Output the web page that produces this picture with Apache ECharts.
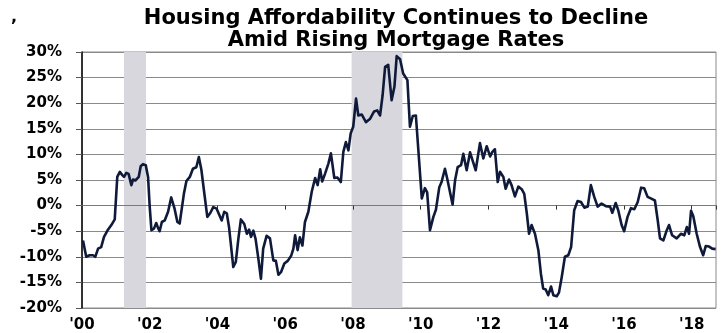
<!DOCTYPE html>
<html>
<head>
<meta charset="utf-8">
<script src="https://cdn.jsdelivr.net/npm/echarts@6/dist/echarts.min.js"></script>
<style>
html,body{margin:0;padding:0;background:#ffffff;}
#chart{width:722px;height:333px;}
</style>
</head>
<body>
<div id="chart"></div>
<script>
// ---- data ----
const titleText = 'Housing Affordability Continues to Decline\nAmid Rising Mortgage Rates';
const yMin = -20, yMax = 30, yStep = 5;
const xStartYear = 2000, xEndYear = 2018.72, xStep = 2;

// months elapsed since Jan 2000 for each reading
const monthOffset = [
  0.35,1.5,2.7,3.9,4.7,5.7,6.8,7.8,9.2,10.4,11.6,12.5,13.4,14.2,14.9,15.7,16.5,17.5,18.1,18.9,
  20.1,20.8,21.6,22.6,23.4,24.0,24.6,25.5,26.3,26.9,27.5,28.3,29.3,30.5,31.6,32.8,33.8,34.6,36.1,37.0,
  38.2,39.3,40.5,41.4,42.3,43.2,44.4,
  45.4,46.5,47.7,49.5,50.4,51.3,52.1,53.6,54.5,55.4,56.3,57.5,58.4,59.2,59.9,60.7,61.5,62.5,63.4,64.2,
  65.4,66.6,67.8,68.7,69.6,70.5,71.7,72.9,74.1,74.9,75.5,76.4,77.2,78.1,79.0,80.2,81.4,82.6,83.5,84.4,
  85.1,86.1,87.3,88.2,89.4,
  90.5,91.7,92.6,93.5,94.4,95.2,96.1,97.1,97.9,99.1,100.6,102.0,103.5,104.6,105.6,106.5,107.4,108.5,109.7,110.7,
  111.5,112.7,113.8,115.3,116.2,117.2,118.3,120.4,121.5,122.3,123.3,124.5,125.4,126.6,127.4,128.6,129.4,130.4,131.3,
  132.2,133.1,134.3,135.1,136.3,137.5,138.3,139.5,141.0,142.2,143.4,144.6,145.4,146.3,147.3,148.1,149.3,150.1,151.3,152.2,
  153.4,154.6,155.8,156.7,157.6,158.4,159.3,160.5,161.7,162.6,163.4,164.3,165.2,166.2,167.0,168.2,169.0,170.0,171.1,172.3,
  173.3,174.4,175.6,176.8,178.0,
  179.2,180.3,181.5,182.7,184.1,185.6,187.1,187.9,189.1,190.0,191.2,192.1,193.3,194.5,195.7,196.9,198.1,199.2,200.4,201.9,
  203.0,204.0,204.8,206.0,207.2,208.0,209.1,210.7,212.2,213.4,214.3,215.1,215.8,216.6,217.8,219.0,220.1,221.0,222.2,223.3,
  224.5
];

// affordability change, %
const affordability = [
  -6.8,-10.0,-9.7,-9.7,-10.0,-8.4,-8.1,-6.1,-4.7,-3.8,-2.7,5.6,6.6,6.0,5.6,6.4,6.2,4.0,5.1,4.9,
  5.6,7.7,8.1,7.9,5.6,-0.3,-4.8,-4.5,-3.4,-4.3,-5.0,-3.2,-2.9,-1.2,1.6,-0.6,-3.2,-3.5,2.3,4.8,
  5.6,7.2,7.5,9.5,7.0,3.0,-2.2,
  -1.5,-0.3,-0.6,-2.9,-1.2,-1.5,-4.2,-12.0,-11.0,-6.5,-2.7,-3.6,-5.5,-4.7,-6.1,-4.9,-6.5,-10.4,-14.3,-8.4,
  -5.9,-6.4,-10.7,-10.8,-13.5,-13.0,-11.3,-10.8,-9.8,-8.4,-5.8,-8.7,-6.2,-7.8,-3.2,-1.2,2.7,5.4,4.0,7.1,
  4.7,6.2,8.2,10.2,5.4,
  5.5,4.6,10.5,12.4,10.8,14.1,15.4,20.9,17.6,17.8,16.3,16.9,18.4,18.6,17.6,21.5,27.1,27.5,20.6,23.2,
  29.2,28.6,25.8,24.5,15.4,17.5,17.6,1.4,3.4,2.6,-4.8,-2.2,-0.8,3.6,4.6,7.2,5.3,2.6,0.2,
  5.0,7.5,7.9,10.1,6.9,10.4,9.0,6.9,12.2,9.2,11.6,9.6,10.5,11.0,4.6,6.6,5.6,3.3,5.1,4.0,
  1.8,3.7,3.2,2.3,-1.5,-5.5,-3.8,-5.5,-8.7,-13.3,-16.2,-16.4,-17.5,-15.8,-17.5,-17.7,-17.0,-13.9,-10.0,-9.7,
  -8.1,-0.9,0.9,0.7,-0.4,
  -0.2,4.0,1.7,-0.2,0.4,-0.1,-0.2,-1.4,0.5,-0.9,-3.8,-5.0,-2.2,-0.5,-0.7,0.7,3.5,3.4,1.7,1.3,
  1.0,-2.9,-6.4,-6.8,-4.8,-3.8,-5.8,-6.4,-5.5,-5.8,-4.2,-5.5,-1.0,-2.1,-5.5,-8.1,-9.7,-7.9,-8.0,-8.4,
  -8.5
];

// recession periods (decimal years)
const recessionStart = [2001.24, 2007.96];
const recessionEnd   = [2001.89, 2009.46];

// ---- build ----
const lineData = monthOffset.map((m, i) => [xStartYear + m / 12, affordability[i]]);
const areas = recessionStart.map((s, i) => [{ xAxis: s }, { xAxis: recessionEnd[i] }]);

const FONT = '"DejaVu Sans", sans-serif';
const chart = echarts.init(document.getElementById('chart'), null, { renderer: 'canvas' });

chart.setOption({
  animation: false,
  backgroundColor: '#ffffff',
  title: [
    {
      text: titleText,
      left: 391,
      top: 3,
      textAlign: 'center',
      textStyle: { fontFamily: FONT, fontWeight: 'bold', fontSize: 21, lineHeight: 22, color: '#000000' }
    },
    {
      text: ',',
      left: 6,
      top: 5,
      textStyle: { fontFamily: FONT, fontWeight: 'bold', fontSize: 16, color: '#000000' }
    }
  ],
  grid: {
    left: 82, right: 6, top: 52, bottom: 25,
    show: true, borderColor: '#8a8a8a', borderWidth: 1, backgroundColor: 'transparent'
  },
  xAxis: [
    {
      type: 'value',
      position: 'bottom',
      min: xStartYear, max: xEndYear, interval: xStep,
      axisLine: { show: false, onZero: false },
      axisTick: { show: false },
      splitLine: { show: false },
      axisLabel: {
        show: true, margin: 10, color: '#000000', fontFamily: FONT, fontWeight: 'bold', fontSize: 15,
        showMaxLabel: false,
        formatter: v => {
          const r = Math.round(v);
          return (Math.abs(v - r) < 1e-6 && r % 2 === 0) ? "'" + String(r).slice(2) : '';
        }
      }
    },
    {
      type: 'value',
      position: 'top',
      min: xStartYear, max: xEndYear, interval: xStep,
      z: 3,
      axisLine: { show: true, onZero: true, lineStyle: { color: '#7a7a7a', width: 1 } },
      axisTick: { show: true, inside: true, length: 4, lineStyle: { color: '#333333', width: 1 } },
      axisLabel: { show: false },
      splitLine: { show: false }
    }
  ],
  yAxis: {
    type: 'value',
    min: yMin, max: yMax, interval: yStep,
    axisLine: { show: true, onZero: false, lineStyle: { color: '#000000', width: 1.5 } },
    axisTick: { show: true, length: 6, lineStyle: { color: '#555555' } },
    splitLine: { show: true, lineStyle: { color: '#8a8a8a', width: 1 } },
    axisLabel: {
      margin: 20, color: '#000000', fontFamily: FONT, fontWeight: 'bold', fontSize: 15,
      formatter: v => v + '%'
    }
  },
  series: [
    {
      type: 'line',
      xAxisIndex: 0,
      data: lineData,
      showSymbol: false,
      symbol: 'none',
      smooth: false,
      z: 4,
      lineStyle: { color: '#0f1a3a', width: 2.6, join: 'round' },
      markArea: {
        silent: true,
        itemStyle: { color: '#d8d7de' },
        data: areas
      }
    }
  ]
});
</script>
</body>
</html>
